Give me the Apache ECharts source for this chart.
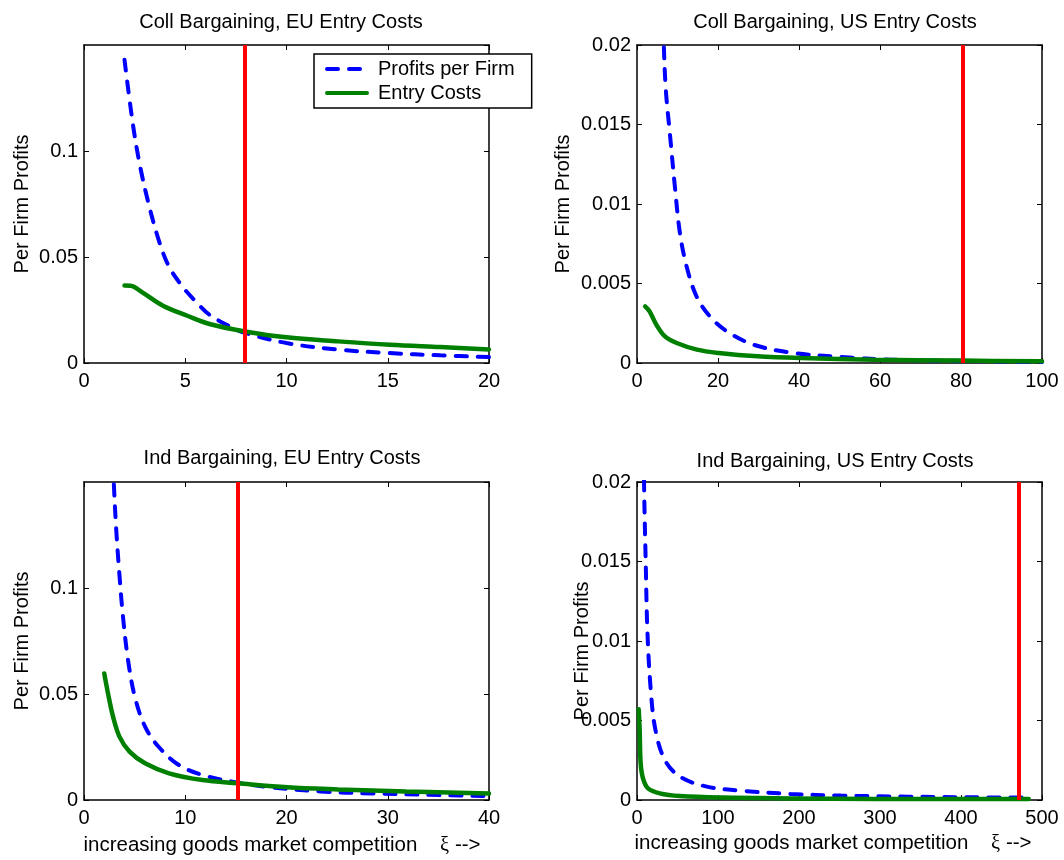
<!DOCTYPE html>
<html>
<head>
<meta charset="utf-8">
<script src="https://cdn.jsdelivr.net/npm/echarts/dist/echarts.min.js"></script>
<style>
html, body { margin: 0; padding: 0; background: #fff; }
#chart1 { width: 1064px; height: 860px; }
</style>
</head>
<body>
<div id="chart1"></div>
<script>
var FONT = '"Liberation Sans", Arial, sans-serif';

// panel titles, in order: top left, top right, bottom left, bottom right
var titles = ['Coll Bargaining, EU Entry Costs', 'Coll Bargaining, US Entry Costs',
	'Ind Bargaining, EU Entry Costs', 'Ind Bargaining, US Entry Costs'];

// axis ranges and tick steps
var xMax = [20, 100, 40, 500];
var xStep = [5, 20, 10, 100];
var yMax = [0.15, 0.02, 0.15, 0.02];
var yStep = [0.05, 0.005, 0.05, 0.005];

// red vertical line position in each panel
var cutoffs = [7.95, 80.4, 15.2, 471.9];

// [xi, profits]
var collEuProfits = [[2.0, 0.143], [2.43, 0.1116], [2.77, 0.0928], [3.18, 0.0755], [3.69, 0.058],
	[4.19, 0.0456], [4.86, 0.0361], [5.52, 0.029], [6.19, 0.0228], [7.2, 0.0173], [7.95, 0.0142],
	[10.0, 0.0094], [12.55, 0.0063], [15.1, 0.0047], [17.6, 0.0036], [20, 0.0028]];
var collEuEntry = [[2.0, 0.0365], [2.3, 0.0364], [2.88, 0.0333], [3.9, 0.027], [5.1, 0.0223],
	[6.2, 0.0184], [7.95, 0.0149], [10, 0.0121], [12.55, 0.0102], [15.1, 0.0086], [17.6, 0.0075], [20, 0.0064]];

var collUsProfits = [[2.0, 0.143], [3.18, 0.0755], [4.19, 0.0456], [5.52, 0.029], [6.62, 0.02],
	[7.12, 0.01717], [8.11, 0.01445], [9.35, 0.0111], [10.6, 0.00817], [12.25, 0.00607], [14.7, 0.00419],
	[18.0, 0.00293], [22.2, 0.00199], [28.8, 0.00115], [38.7, 0.00063], [50.3, 0.00038], [62.7, 0.00021],
	[80.1, 0.00013], [100, 0.00006]];
var collUsEntry = [[2.0, 0.00356], [3.1, 0.00325], [4.8, 0.0024], [6.9, 0.00167], [9.8, 0.00126],
	[14.8, 0.00084], [20.2, 0.00063], [29.7, 0.00042], [40.4, 0.00031], [58.6, 0.00021], [80.2, 0.00015], [100, 0.00011]];

var indEuProfits = [[2.7, 0.18], [2.95, 0.149], [3.19, 0.127], [3.52, 0.105], [3.85, 0.0865], [4.35, 0.066],
	[5.02, 0.0487], [6.03, 0.0346], [7.37, 0.0251], [9.37, 0.0165], [11.7, 0.0118], [15.2, 0.0082],
	[18.4, 0.006], [23.4, 0.004], [28.4, 0.0031], [35.1, 0.0023], [40, 0.0018]];
var indEuEntry = [[2.0, 0.0597], [2.37, 0.0503], [2.87, 0.0393], [3.5, 0.0299], [4.5, 0.0228], [6.03, 0.0173],
	[8.4, 0.0126], [11.7, 0.0094], [15.2, 0.0079], [20.1, 0.006], [25.1, 0.005], [31.8, 0.004], [40, 0.0031]];

var indUsProfits = [[6, 0.034], [8.7, 0.02], [10.8, 0.01487], [12.8, 0.01068], [17.0, 0.0069], [22.8, 0.0044],
	[34.4, 0.00251], [53, 0.00147], [86.2, 0.00084], [127.6, 0.00059], [189.7, 0.00038], [251.8, 0.00028],
	[334.6, 0.00021], [417.4, 0.00017], [483.6, 0.00015]];
var indUsEntry = [[2.1, 0.0057], [3.3, 0.0044], [4.5, 0.0023], [7.4, 0.00136], [13.6, 0.00073], [28.1, 0.00042],
	[53, 0.00025], [106.8, 0.00015], [189.7, 0.0001], [293, 0.00006], [483.6, 0.00006]];

var profits = [collEuProfits, collUsProfits, indEuProfits, indUsProfits];
var entry = [collEuEntry, collUsEntry, indEuEntry, indUsEntry];

var chart1 = echarts.init(document.getElementById('chart1'));

// plot boxes in pixels
var boxes = [
	{ left: 84, top: 45 },
	{ left: 637, top: 45 },
	{ left: 84, top: 482 },
	{ left: 637, top: 482 }
];
var titleX = [281, 835, 282, 835];
var titleY = [12, 12, 448, 451];
var yNameGap = [52, 64, 52, 45];
var xNameShift = [0, 0, 9, 13];

var grids = [], xAxes = [], yAxes = [], series = [], titleList = [];
var mirrorX = [], mirrorY = [];

var lineBlack = { color: '#000', width: 1.5 };

for (var i = 0; i < 4; i++) {
	grids.push({ left: boxes[i].left, top: boxes[i].top, width: 405, height: 318, outerBoundsMode: 'none' });

	titleList.push({
		text: titles[i], left: titleX[i], top: titleY[i], textAlign: 'center', padding: 0,
		textStyle: { color: '#000', fontSize: 20, fontWeight: 'normal', fontFamily: FONT }
	});

	var bottomRow = i >= 2;
	xAxes.push({
		type: 'value', gridIndex: i, min: 0, max: xMax[i], interval: xStep[i], position: 'bottom',
		axisLine: { show: true, onZero: false, lineStyle: lineBlack },
		axisTick: { show: true, inside: true, length: 5, lineStyle: { color: '#000', width: 1 } },
		axisLabel: { color: '#000', fontSize: 20, fontFamily: FONT, margin: 8 },
		splitLine: { show: false },
		name: bottomRow ? '{t|increasing goods market competition\u00a0\u00a0\u00a0\u00a0}{s|ξ}{t|\u00a0-->}' : '',
		nameLocation: 'middle', nameGap: i == 2 ? 35 : 33, nameMoveOverlap: false,
		nameTextStyle: {
			padding: [0, xNameShift[i], 0, 0],
			rich: {
				t: { fontSize: 20.5, color: '#000', fontFamily: FONT },
				s: { fontSize: 20.5, color: '#000', fontFamily: '"Liberation Serif", serif' }
			}
		}
	});
	mirrorX.push({
		type: 'value', gridIndex: i, min: 0, max: xMax[i], interval: xStep[i], position: 'top',
		axisLine: { show: true, onZero: false, lineStyle: lineBlack },
		axisTick: { show: true, inside: true, length: 5, lineStyle: { color: '#000', width: 1 } },
		axisLabel: { show: false },
		splitLine: { show: false }
	});

	var leftCol = i % 2 == 0;
	yAxes.push({
		type: 'value', gridIndex: i, min: 0, max: yMax[i], interval: yStep[i], position: 'left',
		axisLine: { show: true, onZero: false, lineStyle: lineBlack },
		axisTick: { show: true, inside: true, length: 5, lineStyle: { color: '#000', width: 1 } },
		axisLabel: { color: '#000', fontSize: 20, fontFamily: FONT, margin: 6, showMaxLabel: !leftCol },
		splitLine: { show: false },
		name: 'Per Firm Profits', nameLocation: 'middle', nameGap: yNameGap[i], nameMoveOverlap: false,
		nameTextStyle: { color: '#000', fontSize: 20, fontFamily: FONT, padding: i == 3 ? [0, 20, 0, 0] : 0 }
	});
	mirrorY.push({
		type: 'value', gridIndex: i, min: 0, max: yMax[i], interval: yStep[i], position: 'right',
		axisLine: { show: true, onZero: false, lineStyle: lineBlack },
		axisTick: { show: true, inside: true, length: 5, lineStyle: { color: '#000', width: 1 } },
		axisLabel: { show: false },
		splitLine: { show: false }
	});

	series.push({
		name: 'Profits per Firm', type: 'line', xAxisIndex: i, yAxisIndex: i,
		data: profits[i], symbol: 'none', smooth: 0.35, clip: true,
		lineStyle: { color: '#0000ff', width: 4, type: [11, 11], cap: 'round' },
		itemStyle: { color: '#0000ff' },
		z: 2
	});
	series.push({
		name: 'Entry Costs', type: 'line', xAxisIndex: i, yAxisIndex: i,
		data: entry[i], symbol: 'none', smooth: 0.35, clip: true,
		lineStyle: { color: '#008000', width: 4.5, cap: 'round' },
		itemStyle: { color: '#008000' },
		z: 3,
		markLine: {
			silent: true, symbol: 'none', animation: false,
			label: { show: false },
			lineStyle: { color: '#ff0000', width: 4, type: 'solid' },
			data: [{ xAxis: cutoffs[i] }]
		}
	});
}

var option = {
	backgroundColor: '#fff',
	animation: false,
	textStyle: { fontFamily: FONT },
	title: titleList,
	grid: grids,
	xAxis: xAxes.concat(mirrorX),
	yAxis: yAxes.concat(mirrorY),
	legend: {
		orient: 'vertical', left: 314, top: 54,
		padding: [5, 17, 5, 11],
		itemWidth: 40, itemHeight: 20, itemGap: 4,
		backgroundColor: '#fff', borderColor: '#000', borderWidth: 1.5,
		textStyle: { color: '#000', fontSize: 20, fontFamily: FONT, padding: [0, 0, 0, 6] },
		itemStyle: { color: 'rgba(0,0,0,0)', borderColor: 'rgba(0,0,0,0)', borderWidth: 0, opacity: 0 },
		lineStyle: { width: 4 },
		data: ['Profits per Firm', 'Entry Costs']
	},
	series: series
};

chart1.setOption(option);
</script>
</body>
</html>
